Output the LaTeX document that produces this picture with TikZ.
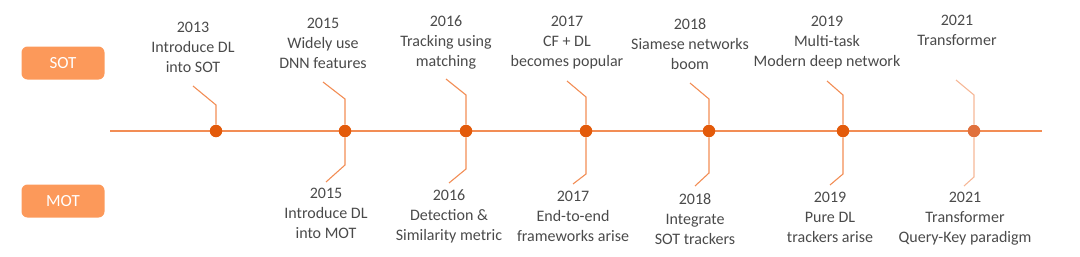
\documentclass[tikz,border=0pt]{standalone}
\usepackage{fontspec}
\setmainfont{Carlito}
\usepackage{tikz}
\usepackage{xcolor}

\definecolor{lineorange}{HTML}{F28D55}
\definecolor{dotorange}{HTML}{E35A0A}
\definecolor{boxorange}{HTML}{FC995A}
\definecolor{lightorange}{HTML}{F6B898}
\definecolor{lastdot}{HTML}{E0703C}
\definecolor{labelgrey}{HTML}{4A4A4A}

\tikzset{
  trackbox/.style={rounded corners=6pt,fill=boxorange,text=white,minimum width=83pt,minimum height=33pt,font=\fontsize{17}{20}\selectfont},
  event/.style={align=center,text=labelgrey,font=\fontsize{16}{20}\selectfont,inner sep=0pt},
  yeardot/.style={circle,fill=dotorange,minimum size=12.5pt,inner sep=0pt},
  stem/.style={draw=lineorange,line width=1.1pt}
}

\begin{document}
\begin{tikzpicture}[x=1pt,y=-1pt]
  \useasboundingbox (0,0) rectangle (1080,257);
  % the two tracks
  \node[trackbox] (sot) at (63,63) {SOT};
  \node[trackbox] (mot) at (63,201) {MOT};
  % time axis
  \coordinate (axisL) at (110,131);
  \coordinate (axisR) at (1042,131);
  \draw[stem] (axisL) -- (axisR);
  % SOT milestones (above)
  \foreach \n/\x/\b/\ex/\ey/\ty/\txt in {
      a/216/105/193/86/22/{2013\\Introduce DL\\into SOT},
      b/345/99/323/82/18/{2015\\Widely use\\DNN features},
      c/466/95/446/79/15/{2016\\Tracking using\\matching},
      d/586/97/567/81/16/{2017\\CF + DL\\becomes popular},
      e/709/99/690/83/18/{2018\\Siamese networks\\boom},
      f/843/95/827/81/16/{2019\\Multi-task\\Modern deep network}} {
    \node[yeardot] (dot\n) at (\x,131) {};
    \coordinate (bu\n) at (\x,\b);
    \coordinate (eu\n) at (\ex,\ey);
    \draw[stem] (dot\n) -- (bu\n) -- (eu\n);
    \node[event,anchor=north] (up\n) at (\ex,\ty) {\txt};
  }
  % MOT milestones (below)
  \foreach \n/\x/\b/\ex/\ey/\ty/\txt in {
      b/345/165/326/182/188/{2015\\Introduce DL\\into MOT},
      c/466/169/449/183/189/{2016\\Detection \&\\Similarity metric},
      d/586/174/573/184/191/{2017\\End-to-end\\frameworks arise},
      e/709/173/695/186/193/{2018\\Integrate\\SOT trackers},
      f/843/174/830/185/192/{2019\\Pure DL\\trackers arise}} {
    \coordinate (bd\n) at (\x,\b);
    \coordinate (ed\n) at (\ex,\ey);
    \draw[stem] (dot\n) -- (bd\n) -- (ed\n);
    \node[event,anchor=north] (down\n) at (\ex,\ty) {\txt};
  }
  % 2021, drawn lighter
  \node[yeardot,fill=lastdot] (dotg) at (974,131) {};
  \coordinate (bug) at (974,95);
  \coordinate (eug) at (956,80);
  \coordinate (bdg) at (974,177);
  \coordinate (edg) at (964,186);
  \draw[stem,draw=lightorange] (dotg) -- (bug) -- (eug);
  \draw[stem,draw=lightorange] (dotg) -- (bdg) -- (edg);
  \node[event,anchor=north] (upg) at (957,15) {2021\\Transformer};
  \node[event,anchor=north] (downg) at (965,192) {2021\\Transformer\\Query-Key paradigm};
\end{tikzpicture}
\end{document}
